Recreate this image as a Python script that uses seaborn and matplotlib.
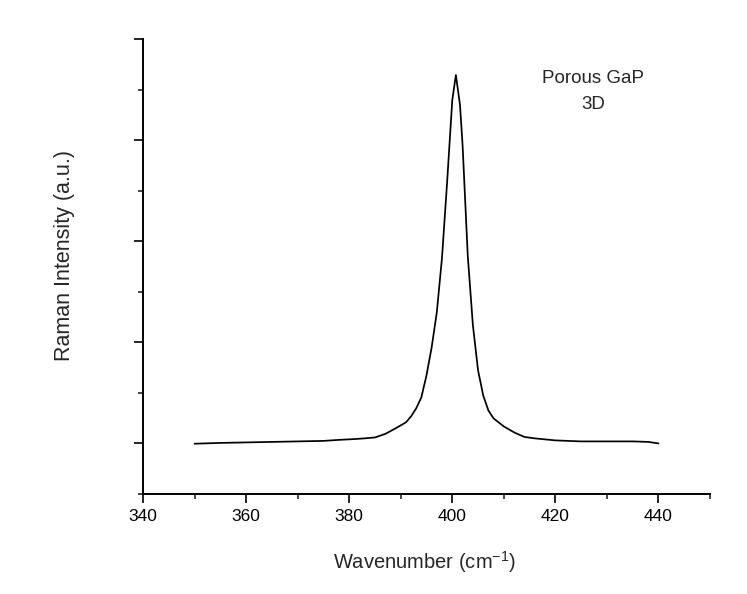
import pandas as pd
import matplotlib
matplotlib.use('Agg')
import matplotlib.pyplot as plt
from matplotlib.ticker import MultipleLocator
import seaborn as sns

# Raman spectrum (wavenumber in cm-1, intensity in a.u.)
wavenumber = [350, 355, 360, 365, 370, 375, 378, 381, 383, 385, 387, 389, 391, 392,
              393, 394, 395, 396, 397, 398, 399, 400, 400.7, 401.5, 402, 403, 404,
              405, 406, 407, 408, 410, 412, 414, 416, 418, 420, 425, 430, 435, 438, 440]
intensity = [997, 1005, 1010, 1015, 1020, 1025, 1035, 1043, 1050, 1059, 1094, 1149, 1208, 1267,
             1347, 1455, 1673, 1950, 2297, 2832, 3584, 4396, 4644, 4347, 3950, 2861, 2168,
             1723, 1475, 1327, 1248, 1168, 1109, 1064, 1050, 1040, 1030, 1020, 1020, 1020, 1015, 1000]

label_text = ['Porous GaP', '3D']

df = pd.DataFrame({'Wavenumber': wavenumber, 'Intensity': intensity})

sns.set_style('ticks')
plt.rcParams['font.family'] = ['Liberation Sans', 'DejaVu Sans']
plt.rcParams['mathtext.default'] = 'regular'

fig = plt.figure(figsize=(7.47, 5.94), dpi=100)
ax = fig.add_axes([0.1914, 0.1684, 0.7591, 0.7659])

sns.lineplot(data=df, x='Wavenumber', y='Intensity', color='black', linewidth=1.25, ax=ax)

ax.set_xlim(340, 450)
ax.set_ylim(500, 5000)
ax.xaxis.set_major_locator(MultipleLocator(20))
ax.xaxis.set_minor_locator(MultipleLocator(10))
ax.yaxis.set_major_locator(MultipleLocator(1000))
ax.yaxis.set_minor_locator(MultipleLocator(500))
ax.set_yticklabels([])
ax.tick_params(which='major', length=6.5, width=1.2, direction='out', labelsize=12.5,
               colors='black', pad=4)
ax.tick_params(which='minor', length=3.6, width=1.2, direction='out')

for side in ['top', 'right']:
    ax.spines[side].set_visible(False)
for side in ['left', 'bottom']:
    ax.spines[side].set_linewidth(1.4)
    ax.spines[side].set_color('black')

ax.set_xlabel('Wavenumber (cm$^{-1}$)', fontsize=14.5)
ax.xaxis.set_label_coords(0.497, -0.149)
ax.xaxis.label.set_verticalalignment('center')
ax.set_ylabel('Raman Intensity (a.u.)', fontsize=15.5)
ax.yaxis.set_label_coords(-0.1376, 0.525)
ax.yaxis.label.set_verticalalignment('center')

# sample label in the top right corner
ax.text(0.7945, 0.914, label_text[0], transform=ax.transAxes, ha='center', va='center', fontsize=13.5)
ax.text(0.7945, 0.855, label_text[1], transform=ax.transAxes, ha='center', va='center', fontsize=13.5)

fig.savefig('out.png', dpi=100, facecolor='white')
